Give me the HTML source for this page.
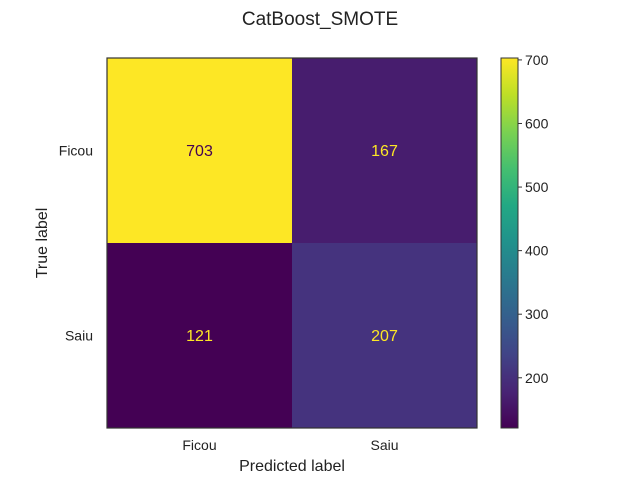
<!DOCTYPE html>
<html><head><meta charset="utf-8"><style>
body{margin:0;background:#fff;}
svg{display:block;font-family:"Liberation Sans","DejaVu Sans",sans-serif;}
</style></head><body>
<svg id="chart" width="640" height="480" viewBox="0 0 640 480">
<defs>
<linearGradient id="viridis" x1="0" y1="1" x2="0" y2="0">
<stop offset="0" stop-color="#440154"/><stop offset="0.1" stop-color="#482475"/>
<stop offset="0.2" stop-color="#414487"/><stop offset="0.3" stop-color="#355f8d"/>
<stop offset="0.4" stop-color="#2a788e"/><stop offset="0.5" stop-color="#21918c"/>
<stop offset="0.6" stop-color="#22a884"/><stop offset="0.7" stop-color="#44bf70"/>
<stop offset="0.8" stop-color="#7ad151"/><stop offset="0.9" stop-color="#bddf26"/>
<stop offset="1" stop-color="#fde725"/></linearGradient>
</defs>
<text x="320" y="25" text-anchor="middle" font-size="19" fill="#222">CatBoost_SMOTE</text>
<g id="cells"></g>
<rect x="107" y="58" width="370" height="370" fill="none" stroke="#333" stroke-width="1.2"/>
<rect x="501" y="58" width="17" height="370" fill="url(#viridis)" stroke="#333" stroke-width="1"/>
<g id="cbticks"></g>
<g id="axticks"></g>
<text x="292" y="471" text-anchor="middle" font-size="16" fill="#222">Predicted label</text>
<text transform="translate(47,243) rotate(-90)" text-anchor="middle" font-size="16" fill="#222">True label</text>
</svg>
<script>
const classes=["Ficou","Saiu"];
const values=[[703,167],[121,207]];
const cbTicks=[200,300,400,500,600,700];
const NS="http://www.w3.org/2000/svg";
const vmin=121,vmax=703;
const X0=107,Y0=58,S=370,n=classes.length,cs=S/n;
const stops=[[0,"#440154"],[0.1,"#482475"],[0.2,"#414487"],[0.3,"#355f8d"],[0.4,"#2a788e"],[0.5,"#21918c"],[0.6,"#22a884"],[0.7,"#44bf70"],[0.8,"#7ad151"],[0.9,"#bddf26"],[1,"#fde725"]];
function hex(h){return [1,3,5].map(i=>parseInt(h.substr(i,2),16));}
function cmap(v){let t=(v-vmin)/(vmax-vmin);t=Math.max(0,Math.min(1,t));
for(let i=1;i<stops.length;i++){if(t<=stops[i][0]){const a=hex(stops[i-1][1]),b=hex(stops[i][1]);const f=(t-stops[i-1][0])/(stops[i][0]-stops[i-1][0]);return "rgb("+a.map((c,k)=>Math.round(c+(b[k]-c)*f)).join(",")+")";}}return stops[10][1];}
function cbY(v){return Y0+S-(v-vmin)/(vmax-vmin)*S;}
function el(tag,attrs,parent,txt){const e=document.createElementNS(NS,tag);for(const k in attrs)e.setAttribute(k,attrs[k]);if(txt!==undefined)e.textContent=txt;parent.appendChild(e);return e;}
const cells=document.getElementById("cells");
values.forEach((row,r)=>row.forEach((v,c)=>{
 const rc=el("rect",{x:X0+c*cs,y:Y0+r*cs,width:cs,height:cs,fill:cmap(v)},cells);
 
 
 const t=el("text",{x:X0+c*cs+cs/2,y:Y0+r*cs+cs/2+5.5,"text-anchor":"middle","font-size":"16",fill:(v-vmin)/(vmax-vmin)>0.5?"#440154":"#fde725"},cells,String(v));
 
 
}));
const cb=document.getElementById("cbticks");
cbTicks.forEach(v=>{const y=cbY(v);
 const l=el("line",{x1:518,x2:522,y1:y,y2:y,stroke:"#333"},cb);
 
 
 const t=el("text",{x:525,y:y+5,"font-size":"14",fill:"#222"},cb,String(v));
 
 
});
const ax=document.getElementById("axticks");
classes.forEach((c,i)=>{
 const cx=X0+i*cs+cs/2;
 const t=el("text",{x:cx,y:450,"text-anchor":"middle","font-size":"14",fill:"#222"},ax,c);
 
 
 const t2=el("text",{x:93,y:Y0+i*cs+cs/2+5,"text-anchor":"end","font-size":"14",fill:"#222"},ax,c);
 
 
});
</script>
</body></html>
